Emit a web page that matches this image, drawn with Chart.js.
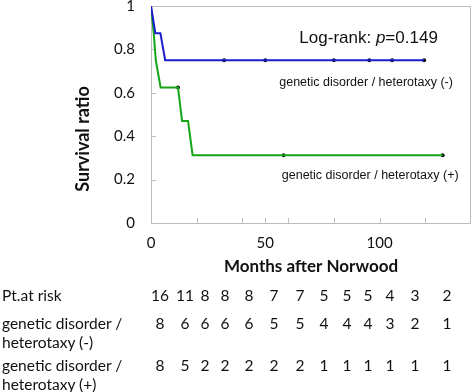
<!DOCTYPE html>
<html>
  <head>
    <title>Survival after Norwood</title>
    <meta charset="UTF-8" />
    <script src="https://cdn.jsdelivr.net/npm/chart.js@4"></script>
    <style>
      body { margin: 0; background: #fff; }
      #wrap { position: relative; width: 475px; height: 392px; }
      #myChart { position: absolute; left: 0; top: 0; }
      .cell {
        position: absolute;
        font-family: Lato, sans-serif;
        font-size: 15.5px;
        line-height: 19px;
        color: #111;
        white-space: nowrap;
      }
      .num { width: 30px; text-align: center; }
    </style>
  </head>
  <body>
    <div id="wrap">
      <canvas id="myChart" width="475" height="392"></canvas>
    </div>
    <script>
      // curve: genetic disorder / heterotaxy (-)
      var negMonths = [0, 1.9, 4.1, 6.2, 119.5];
      var negSurv = [1, 0.875, 0.875, 0.75, 0.75];
      var negCensMonths = [32, 50, 80, 95.5, 105.5, 119.5];
      var negCensSurv = [0.75, 0.75, 0.75, 0.75, 0.75, 0.75];

      // curve: genetic disorder / heterotaxy (+)
      var posMonths = [0, 1.2, 2.1, 4.2, 11.8, 13.6, 16.2, 18.2, 127.6];
      var posSurv = [1, 0.875, 0.75, 0.625, 0.625, 0.47, 0.47, 0.3125, 0.3125];
      var posCensMonths = [11.8, 58, 127.6];
      var posCensSurv = [0.625, 0.3125, 0.3125];

      // axes
      var xTickValues = [0, 20, 40, 50, 60, 80, 100, 120];
      var xTickLabels = [0, 50, 100];
      var yTickValues = [0, 0.2, 0.4, 0.6, 0.8, 1];

      // patients at risk
      var riskLabels = ["Pt.at risk", "genetic disorder /\nheterotaxy (-)", "genetic disorder /\nheterotaxy (+)"];
      var riskAll = [16, 11, 8, 8, 8, 7, 7, 5, 5, 5, 4, 3, 2];
      var riskNeg = [8, 6, 6, 6, 6, 5, 5, 4, 4, 4, 3, 2, 1];
      var riskPos = [8, 5, 2, 2, 2, 2, 2, 1, 1, 1, 1, 1, 1];

      var pText = "0.149";

      function pts(xs, ys) {
        var out = [];
        for (var i = 0; i < xs.length; i++) out.push({ x: xs[i], y: ys[i] });
        return out;
      }

      // at-risk table (plain html text)
      var colX = [160, 185, 205, 225, 249, 274, 300, 324, 347, 368, 390, 415, 447];
      var rowY = [295, 323, 365];
      var wrap = document.getElementById("wrap");
      var rows = [riskAll, riskNeg, riskPos];
      for (var r = 0; r < rows.length; r++) {
        var lab = document.createElement("div");
        lab.className = "cell";
        lab.style.left = "2px";
        lab.style.top = (rowY[r] - 9.5) + "px";
        lab.innerHTML = riskLabels[r].replace("\n", "<br>");
        wrap.appendChild(lab);
        for (var c = 0; c < rows[r].length; c++) {
          var d = document.createElement("div");
          d.className = "cell num";
          d.style.left = (colX[c] - 15) + "px";
          d.style.top = (rowY[r] - 9.5) + "px";
          d.textContent = rows[r][c];
          wrap.appendChild(d);
        }
      }

      var extras = {
        id: "extras",
        beforeDatasetsDraw: function(chart) {
          var ctx = chart.ctx, a = chart.chartArea;
          var xs = chart.scales.x, ys = chart.scales.y;
          ctx.save();
          ctx.strokeStyle = "#bdbdbd";
          ctx.lineWidth = 1;
          ctx.strokeRect(Math.round(a.left) + 0.5, Math.round(a.top) + 0.5,
            Math.round(a.right - a.left) - 1, Math.round(a.bottom - a.top));
          // small inward tick marks
          ctx.beginPath();
          xTickValues.forEach(function(v) {
            if (v === 0) return;
            var px = Math.round(xs.getPixelForValue(v)) + 0.5;
            ctx.moveTo(px, a.bottom);
            ctx.lineTo(px, a.bottom - 5);
          });
          yTickValues.forEach(function(v) {
            if (v === 0 || v === 1) return;
            var py = Math.round(ys.getPixelForValue(v)) + 0.5;
            ctx.moveTo(a.left, py);
            ctx.lineTo(a.left + 5, py);
          });
          ctx.stroke();

          // y axis title, centred where the reference has it
          ctx.fillStyle = "#111";
          ctx.font = "bold 18px Lato";
          ctx.textAlign = "center";
          ctx.textBaseline = "middle";
          ctx.translate(83, 139);
          ctx.rotate(-Math.PI / 2);
          ctx.fillText("Survival ratio", 0, 0);
          ctx.restore();
        },
        afterDatasetsDraw: function(chart) {
          var ctx = chart.ctx;
          var xs = chart.scales.x, ys = chart.scales.y;
          ctx.save();
          ctx.fillStyle = "#111";
          ctx.textBaseline = "middle";

          // Log-rank: p=0.149
          var parts = [["Log-rank: ", "17px 'Liberation Sans'"], ["p", "italic 17px 'Liberation Sans'"], ["=" + pText, "17px 'Liberation Sans'"]];
          var total = 0;
          parts.forEach(function(p) { ctx.font = p[1]; total += ctx.measureText(p[0]).width; });
          var cx = xs.getPixelForValue(95.2) - total / 2;
          var cy = ys.getPixelForValue(0.853);
          ctx.textAlign = "left";
          parts.forEach(function(p) {
            ctx.font = p[1];
            ctx.fillText(p[0], cx, cy);
            cx += ctx.measureText(p[0]).width;
          });

          ctx.font = "12.5px 'Liberation Sans'";
          ctx.textAlign = "center";
          ctx.fillText("genetic disorder / heterotaxy (-)", xs.getPixelForValue(94.1), ys.getPixelForValue(0.645));
          ctx.fillText("genetic disorder / heterotaxy (+)", xs.getPixelForValue(95.9), ys.getPixelForValue(0.219));
          ctx.restore();
        }
      };

      var ctx = document.getElementById("myChart").getContext("2d");
      var chart = new Chart(ctx, {
        type: "scatter",
        data: {
          datasets: [
            {
              label: "genetic disorder / heterotaxy (-)",
              data: pts(negMonths, negSurv),
              showLine: true,
              borderColor: "rgb(28, 28, 205)",
              borderWidth: 2,
              pointRadius: 0,
              tension: 0
            },
            {
              label: "genetic disorder / heterotaxy (+)",
              data: pts(posMonths, posSurv),
              showLine: true,
              borderColor: "rgb(22, 165, 22)",
              borderWidth: 2,
              pointRadius: 0,
              tension: 0
            },
            {
              label: "censored (-)",
              data: pts(negCensMonths, negCensSurv),
              pointRadius: 2,
              pointBackgroundColor: "#111",
              pointBorderWidth: 0
            },
            {
              label: "censored (+)",
              data: pts(posCensMonths, posCensSurv),
              pointRadius: 2,
              pointBackgroundColor: "#111",
              pointBorderWidth: 0
            }
          ]
        },
        options: {
          responsive: false,
          animation: false,
          layout: { padding: { top: 6, right: 2, bottom: 109, left: 0 } },
          plugins: { legend: { display: false }, tooltip: { enabled: false } },
          scales: {
            x: {
              type: "linear",
              min: 0,
              max: 140,
              afterBuildTicks: function(s) {
                s.ticks = xTickValues.map(function(v) { return { value: v }; });
              },
              afterFit: function(s) { s.height = 60; },
              grid: { drawOnChartArea: false, color: "rgba(0,0,0,0)", tickLength: 11 },
              border: { display: false },
              ticks: {
                autoSkip: false,
                maxRotation: 0,
                padding: 0,
                color: "#111",
                font: { family: "Lato", size: 15 },
                callback: function(v) { return xTickLabels.indexOf(v) >= 0 ? String(v) : ""; }
              },
              title: {
                display: true,
                text: "Months after Norwood",
                color: "#111",
                font: { family: "Lato", size: 17, weight: "bold", lineHeight: 1.2 },
                padding: { top: 0, bottom: 6 }
              }
            },
            y: {
              min: 0,
              max: 1,
              afterBuildTicks: function(s) {
                s.ticks = yTickValues.map(function(v) { return { value: v }; });
              },
              afterFit: function(s) { s.width = 151; },
              grid: { drawOnChartArea: false, color: "rgba(0,0,0,0)", tickLength: 16 },
              border: { display: false },
              ticks: {
                padding: 0,
                color: "#111",
                font: { family: "Lato", size: 15, lineHeight: 0.8 },
                callback: function(v) { return String(Math.round(v * 10) / 10); }
              }
            }
          }
        },
        plugins: [extras]
      });
    </script>
  </body>
</html>
